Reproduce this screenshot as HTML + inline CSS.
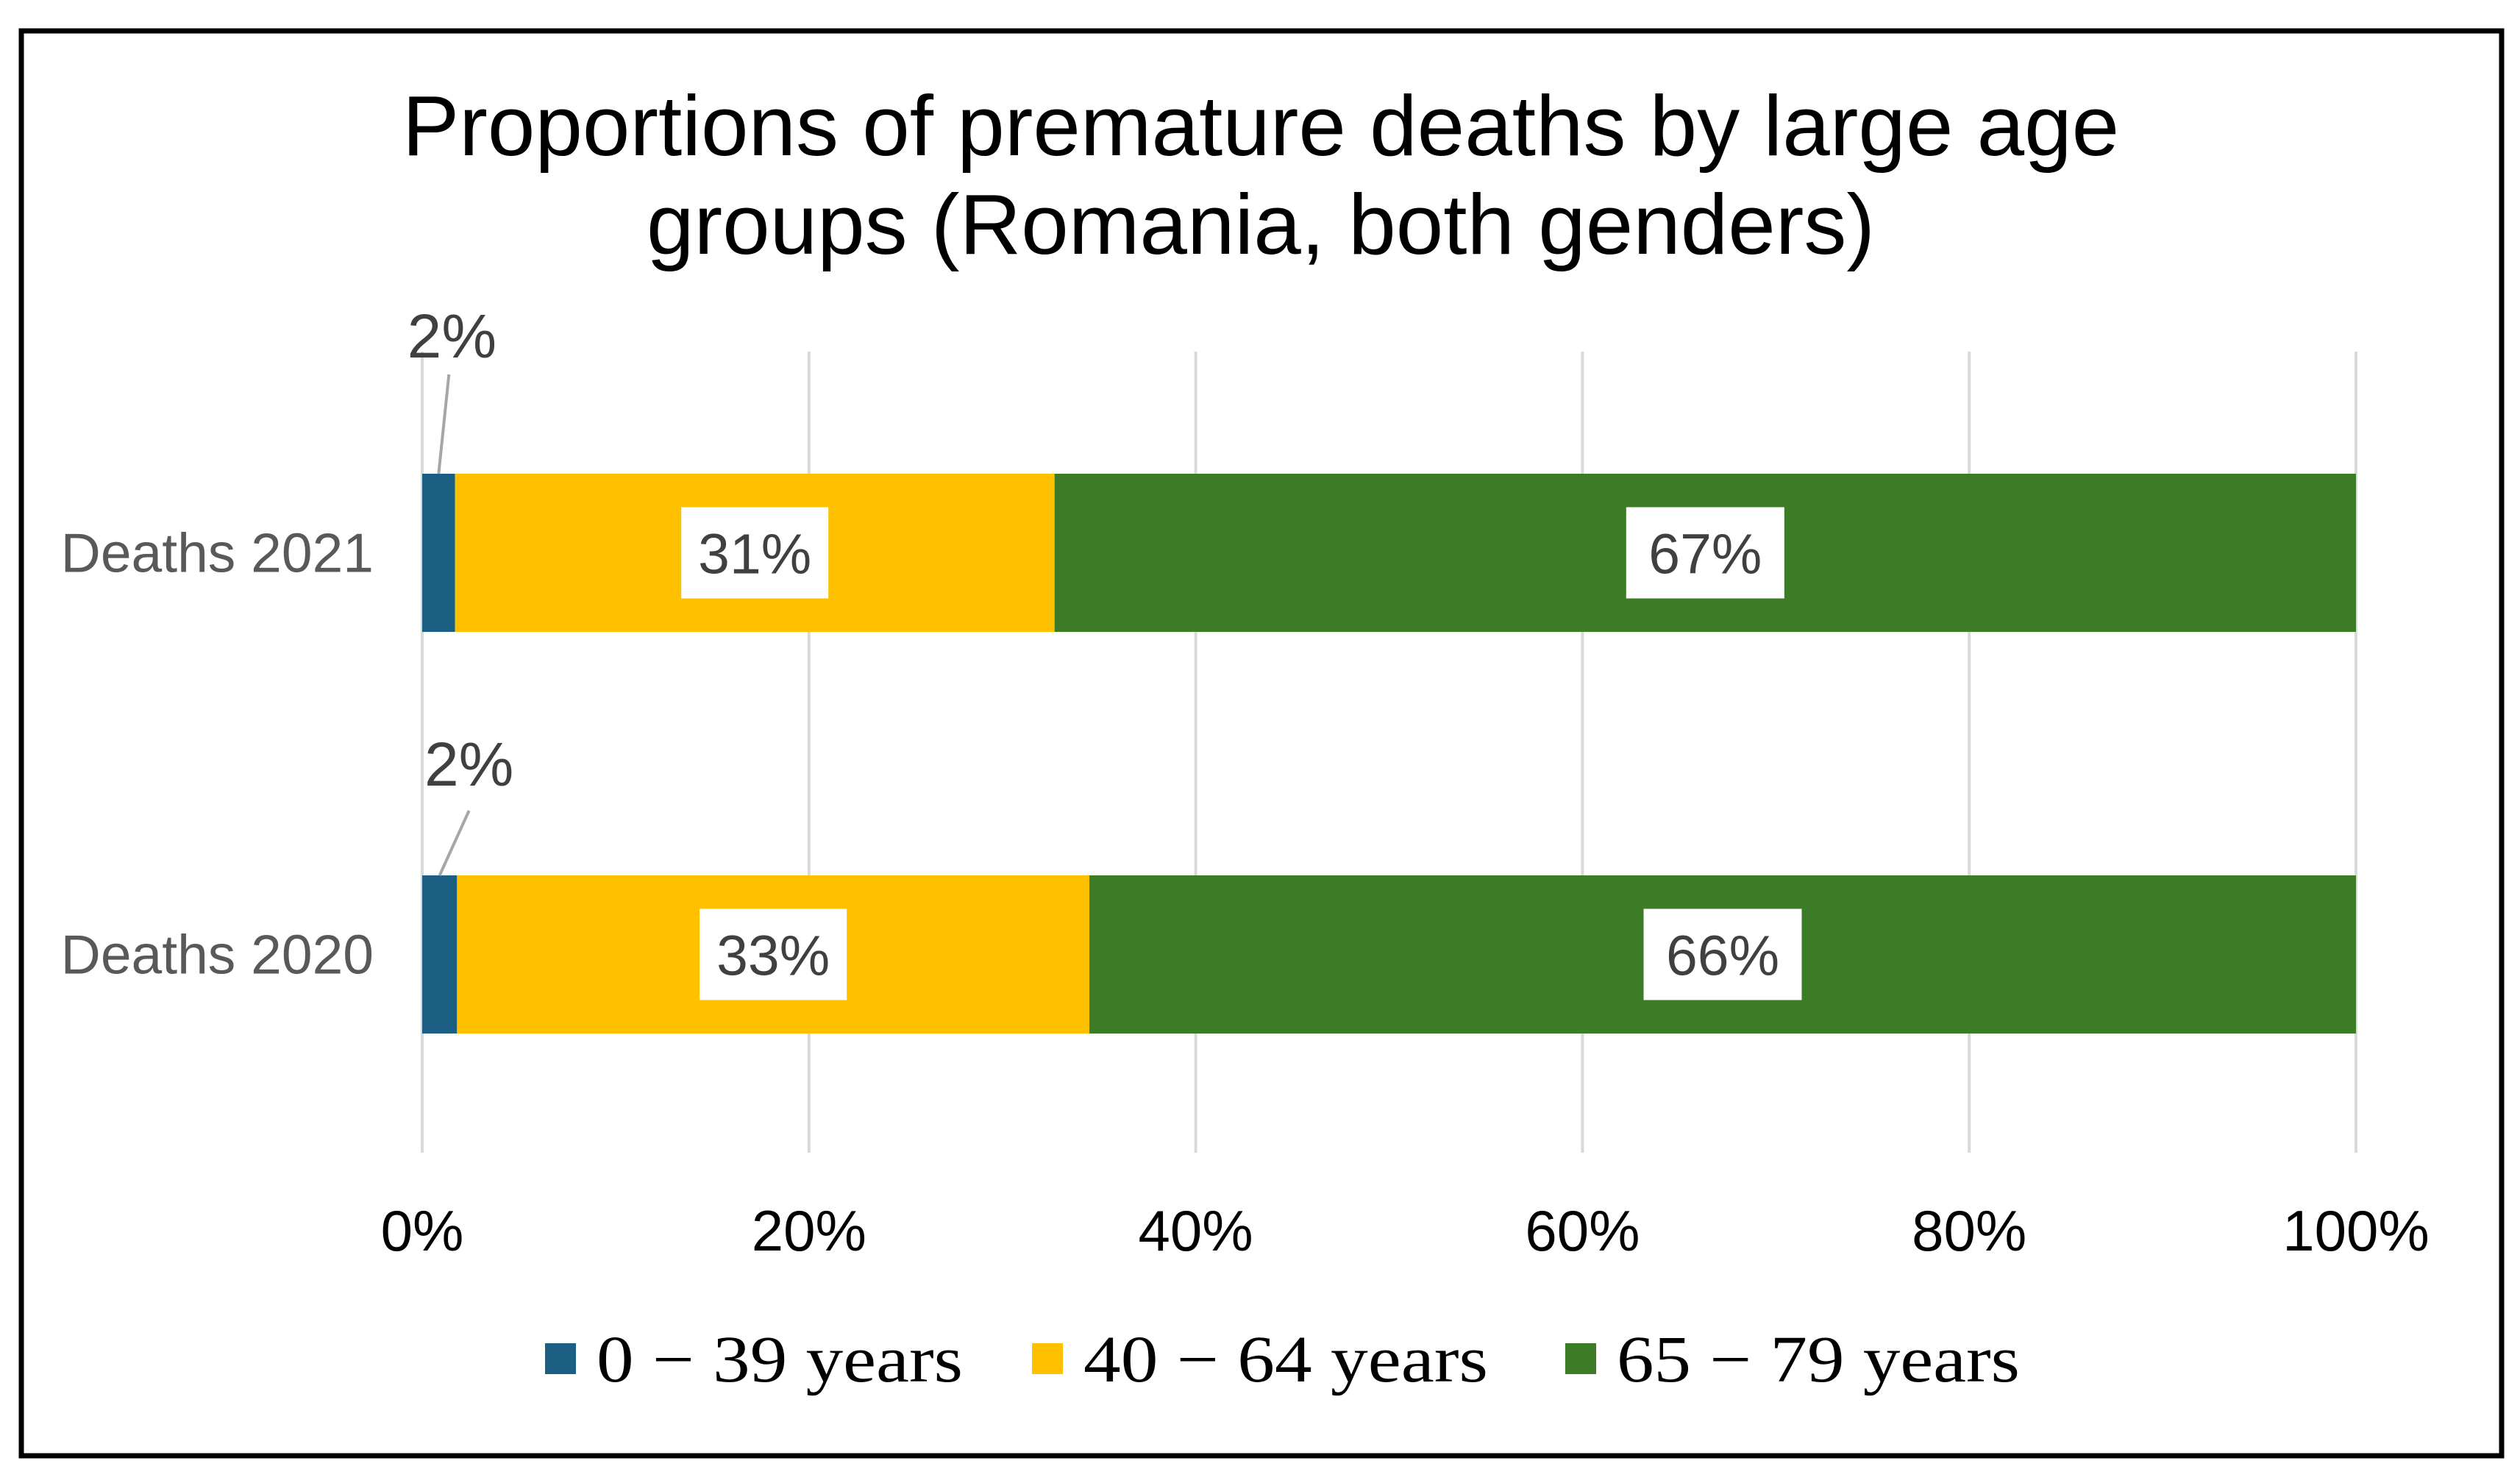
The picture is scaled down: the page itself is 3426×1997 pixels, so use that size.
<!DOCTYPE html>
<html><head><meta charset="utf-8"><style>
html,body{margin:0;padding:0;background:#fff;}
svg{display:block;}
</style></head><body>
<svg id="chart" width="3426" height="1997" viewBox="0 0 3426 1997" xmlns="http://www.w3.org/2000/svg">
<rect x="29" y="42" width="3372" height="1937" fill="#fff" stroke="#000" stroke-width="7"/>
<text x="1714" y="211" text-anchor="middle" font-family="Liberation Sans, Arial, sans-serif" font-size="116" fill="#000">Proportions of premature deaths by large age</text>
<text x="1714" y="345" text-anchor="middle" font-family="Liberation Sans, Arial, sans-serif" font-size="116" fill="#000">groups (Romania, both genders)</text>
<g id="grid"></g>
<g id="bars"></g>
<g id="labels"></g>
<g id="legend"></g>
</svg>
<script>
const categories = ["Deaths 2021", "Deaths 2020"];
const series0 = [1.7, 1.8];
const series1 = [31.0, 32.7];
const series2 = [67.3, 65.5];
const labels0 = ["2%", "2%"];
const labels1 = ["31%", "33%"];
const labels2 = ["67%", "66%"];
const seriesNames = ["0 \u2212 39 years", "40 \u2212 64 years", "65 \u2212 79 years"];
const ticks = [0, 20, 40, 60, 80, 100];
const tickLabels = ["0%", "20%", "40%", "60%", "80%", "100%"];

const NS = "http://www.w3.org/2000/svg";
const colors = ["#1b5f82", "#ffc000", "#3d7c26"];
const x0 = 574, x1 = 3203;
const xs = v => x0 + (x1 - x0) * v / 100;
const barTop = [644, 1190], barH = 215;
function mk(tag, attrs, parent, txt) {
  const e = document.createElementNS(NS, tag);
  for (const k in attrs) e.setAttribute(k, attrs[k]);
  if (txt !== undefined) e.textContent = txt;
  parent.appendChild(e);
  return e;
}
const grid = document.getElementById("grid");
ticks.forEach((t, i) => {
  const l = mk("line", {x1: xs(t), x2: xs(t), y1: 478, y2: 1567, stroke: "#d9d9d9", "stroke-width": 4}, grid);
  
  
  const tx = mk("text", {x: xs(t), y: 1700, "text-anchor": "middle", "font-family": "Liberation Sans, Arial, sans-serif", "font-size": 78, fill: "#000"}, grid, tickLabels[i]);
  
  
});
const bars = document.getElementById("bars"), lab = document.getElementById("labels");
const all = [series0, series1, series2], allLab = [labels0, labels1, labels2];
categories.forEach((c, i) => {
  const cy = barTop[i] + barH / 2;
  const ct = mk("text", {x: 508, y: cy + 26, "text-anchor": "end", "font-family": "Liberation Sans, Arial, sans-serif", "font-size": 75, fill: "#595959"}, lab, c);
  
  
  let acc = 0;
  all.forEach((s, k) => {
    const a = xs(acc), b = xs(acc + s[i]);
    const r = mk("rect", {x: a, y: barTop[i], width: b - a, height: barH, fill: colors[k]}, bars);
    
    
    const mid = (a + b) / 2;
    if (k === 0) {
      const ln = mk("line", {x1: mid + (i ? 40 : 14), y1: barTop[i] - (i ? 88 : 135), x2: mid, y2: barTop[i], stroke: "#a6a6a6", "stroke-width": 4}, lab);
      
      
      const t = mk("text", {x: mid + 18 + i * 22, y: barTop[i] - (i ? 122 : 158), "text-anchor": "middle", "font-family": "Liberation Sans, Arial, sans-serif", "font-size": 84, fill: "#404040"}, lab, allLab[k][i]);
      
      
    } else {
      const w = k === 1 ? 200 : 215;
      const bx = mk("rect", {x: mid - w / 2, y: cy - 62, width: w, height: 124, fill: "#fff"}, lab);
      
      
      const t = mk("text", {x: mid, y: cy + 28, "text-anchor": "middle", "font-family": "Liberation Sans, Arial, sans-serif", "font-size": 77, fill: "#404040"}, lab, allLab[k][i]);
      
      
    }
    acc += s[i];
  });
});
const leg = document.getElementById("legend");
const lx = [741, 1403, 2128];
const lw = [498, 550, 548];
seriesNames.forEach((n, k) => {
  const sq = mk("rect", {x: lx[k], y: 1826, width: 42, height: 42, fill: colors[k]}, leg);
  
  
  const t = mk("text", {x: lx[k] + 70, y: 1878, "font-family": "Liberation Serif, Cambria, serif", "font-size": 90, fill: "#000", textLength: lw[k], lengthAdjust: "spacingAndGlyphs"}, leg, n);
  
  
});
</script>
</body></html>
